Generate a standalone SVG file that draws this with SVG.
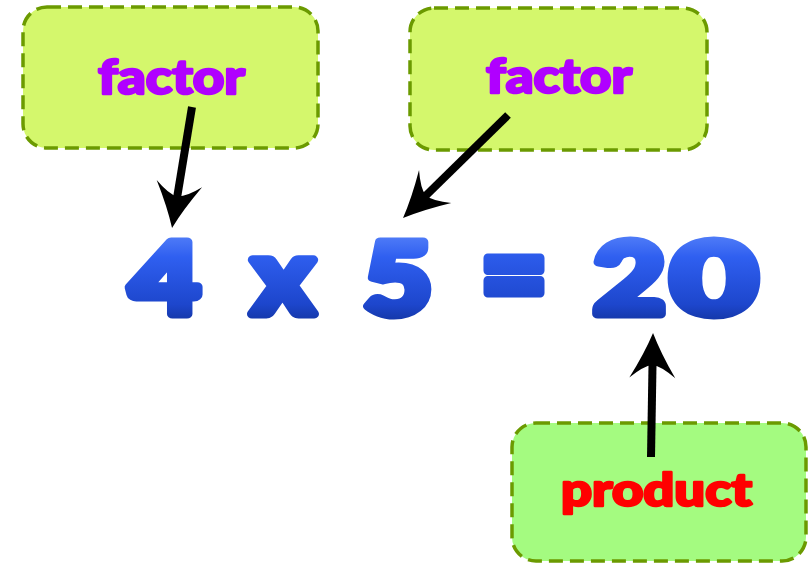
<svg xmlns="http://www.w3.org/2000/svg" width="808" height="563" viewBox="0 0 808 563">
<style>
.box{stroke:#6b9a00;stroke-width:3.5;stroke-dasharray:14,7}
.lbl{font-family:Lato,"Open Sans","Liberation Sans",sans-serif;font-weight:900;stroke-width:2.5;stroke-linejoin:round}
.eq{font-family:Lato,"Liberation Sans",sans-serif;font-weight:900;fill:url(#blue);stroke:url(#blue);stroke-width:9;stroke-linejoin:round;text-anchor:middle}
.conn{stroke:#000;stroke-width:8;fill:none;marker-end:url(#head)}
</style>
<defs>
<linearGradient id="blue" x1="0" y1="0" x2="0" y2="1">
<stop offset="0" stop-color="#6f98ff"/>
<stop offset="0.35" stop-color="#2f5ff0"/>
<stop offset="0.75" stop-color="#1d46cc"/>
<stop offset="1" stop-color="#0d2a88"/>
</linearGradient>
<marker id="head" markerUnits="userSpaceOnUse" markerWidth="52" markerHeight="52" viewBox="-48 -26 52 52" refX="-20" refY="0" orient="auto">
<path d="M0,0 Q-20,-8 -45,-23 Q-33,-9 -32,0 Q-33,9 -45,23 Q-20,8 0,0 Z" fill="#000"/>
</marker>
</defs>
<g id="factor1">
<rect class="box" x="23" y="7" width="295" height="141" rx="24" fill="#d4f76c"/>
<text class="lbl" x="98" y="94" font-size="47" fill="#b000ff" stroke="#b000ff" textLength="147" lengthAdjust="spacingAndGlyphs">factor</text>
</g>
<g id="factor2">
<rect class="box" x="410" y="8" width="297" height="142" rx="24" fill="#d4f76c"/>
<text class="lbl" x="486" y="93" font-size="47" fill="#b000ff" stroke="#b000ff" textLength="146" lengthAdjust="spacingAndGlyphs">factor</text>
</g>
<g id="product">
<rect class="box" x="512" y="423" width="294" height="138" rx="24" fill="#a4fb80"/>
<text class="lbl" x="561" y="506" font-size="45" fill="#ff0000" stroke="#ff0000" textLength="191" lengthAdjust="spacingAndGlyphs">product</text>
</g>
<g id="equation">
<text class="eq" x="165" y="313.5" font-size="99" textLength="70" lengthAdjust="spacingAndGlyphs">4</text>
<text class="eq" x="283" y="313.5" font-size="105" textLength="62" lengthAdjust="spacingAndGlyphs">x</text>
<text class="eq" x="398" y="313.5" font-size="99" textLength="68" lengthAdjust="spacingAndGlyphs">5</text>
<text class="eq" x="514" y="317" font-size="124" textLength="68" lengthAdjust="spacingAndGlyphs">=</text>
<text class="eq" x="629.5" y="313.5" font-size="99" textLength="72" lengthAdjust="spacingAndGlyphs">2</text>
<text class="eq" x="714" y="313.5" font-size="99" textLength="86" lengthAdjust="spacingAndGlyphs">0</text>
</g>
<g id="connectors">
<line class="conn" x1="192" y1="107" x2="175.3" y2="208.3"/>
<line class="conn" x1="508" y1="115" x2="417.3" y2="204"/>
<line class="conn" x1="651" y1="457" x2="652.7" y2="353"/>
</g>
</svg>
